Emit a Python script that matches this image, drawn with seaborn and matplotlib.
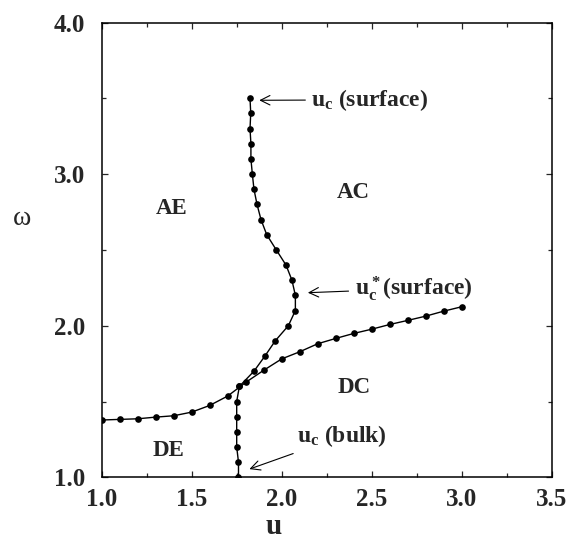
import numpy as np
import pandas as pd
import matplotlib
matplotlib.use('Agg')
import matplotlib.pyplot as plt
import seaborn as sns

# bulk critical line u_c(bulk)
bulk_u = [1.76, 1.76, 1.75, 1.75, 1.75, 1.75, 1.765]
bulk_w = [1.0, 1.1, 1.2, 1.3, 1.4, 1.5, 1.6]

# D / A-C boundary (lower curve)
low_u = [1.0, 1.1, 1.2, 1.3, 1.4, 1.5, 1.6, 1.7, 1.8, 1.9, 2.0,
         2.1, 2.2, 2.3, 2.4, 2.5, 2.6, 2.7, 2.8, 2.9, 3.0]
low_w = [1.378, 1.382, 1.386, 1.397, 1.406, 1.430, 1.474, 1.536, 1.626, 1.706, 1.781,
         1.828, 1.881, 1.916, 1.949, 1.977, 2.008, 2.035, 2.063, 2.096, 2.125]

# surface critical line u_c(surface), going up in omega
surf_w = [1.6, 1.7, 1.8, 1.9, 2.0, 2.1, 2.2, 2.3, 2.4, 2.5,
          2.6, 2.7, 2.8, 2.9, 3.0, 3.1, 3.2, 3.3, 3.4, 3.5]
surf_u = [1.765, 1.846, 1.907, 1.964, 2.037, 2.076, 2.076, 2.057, 2.024, 1.970,
          1.917, 1.885, 1.863, 1.846, 1.837, 1.829, 1.829, 1.824, 1.828, 1.824]

regions = ['AE', 'AC', 'DC', 'DE']
region_u = [1.39, 2.40, 2.40, 1.37]
region_w = [2.77, 2.88, 1.59, 1.18]

xticks = [1.0, 1.5, 2.0, 2.5, 3.0, 3.5]
yticks = [1.0, 2.0, 3.0, 4.0]

sns.set_style('ticks')
plt.rcParams['font.family'] = ['Liberation Serif', 'DejaVu Serif']
plt.rcParams['mathtext.fontset'] = 'custom'
plt.rcParams['mathtext.rm'] = 'Liberation Serif:bold'
plt.rcParams['mathtext.bf'] = 'Liberation Serif:bold'
plt.rcParams['mathtext.it'] = 'Liberation Serif:bold'

fig = plt.figure(figsize=(5.7, 5.44), dpi=100)
ax = fig.add_axes([0.1784, 0.1226, 0.7895, 0.836])

style = dict(color='black', marker='o', markersize=4.8, markeredgewidth=0,
             linewidth=1.0, sort=False, estimator=None)
sns.lineplot(x=bulk_u, y=bulk_w, ax=ax, **style)
sns.lineplot(x=low_u, y=low_w, ax=ax, **style)
sns.lineplot(x=surf_u, y=surf_w, ax=ax, **style)

ax.set_xlim(1.0, 3.5)
ax.set_ylim(1.0, 4.0)
ax.set_xticks(xticks)
ax.set_xticklabels(['%.1f' % t for t in xticks])
ax.set_yticks(yticks)
ax.set_yticklabels(['%.1f' % t for t in yticks])
ax.set_xticks(np.arange(1.0, 3.51, 0.25), minor=True)
ax.set_yticks(np.arange(1.0, 4.01, 0.5), minor=True)
ax.tick_params(which='both', direction='in', top=True, right=True, width=0.9)
ax.tick_params(which='major', length=4, labelsize=18)
ax.tick_params(axis='x', which='major', pad=8)
ax.tick_params(axis='y', which='major', pad=12)
ax.tick_params(which='minor', length=3)
for lab in ax.get_xticklabels() + ax.get_yticklabels():
    lab.set_fontweight('bold')
for sp in ax.spines.values():
    sp.set_linewidth(1.1)
    sp.set_color('black')

ax.set_xlabel('u', fontsize=21, fontweight='bold', va='center')
ax.xaxis.set_label_coords(0.382, -0.108)
ax.set_ylabel('ω', fontsize=20, rotation=0, va='center', ha='center')
ax.yaxis.set_label_coords(-0.177, 0.57)

for name, u, w in zip(regions, region_u, region_w):
    ax.text(u, w, name, fontsize=16.5, fontweight='bold', ha='center', va='center')

arrow = dict(arrowstyle='->', color='black', lw=0.8)
ax.annotate(r'$\mathbf{u_c}$ (surface)', xy=(1.86, 3.487), xytext=(2.165, 3.49),
            fontsize=17, fontweight='bold', va='center', arrowprops=arrow)
ax.annotate(r'$\mathbf{u_c^*}$(surface)', xy=(2.13, 2.217), xytext=(2.405, 2.245),
            fontsize=17, fontweight='bold', va='center', arrowprops=arrow)
ax.annotate(r'$\mathbf{u_c}$ (bulk)', xy=(1.806, 1.048), xytext=(2.083, 1.27),
            fontsize=17, fontweight='bold', va='center', arrowprops=arrow)

fig.savefig('out.png', dpi=100)
